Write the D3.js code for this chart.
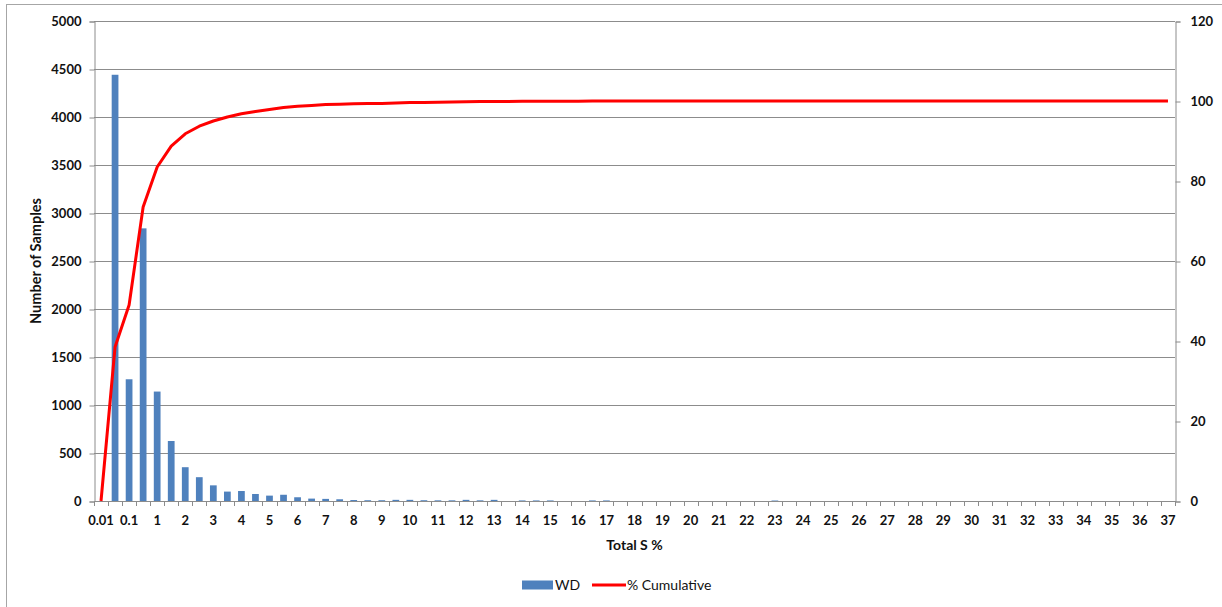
<!DOCTYPE html>
<html>
<head>
<meta charset="utf-8">
<script src="https://cdn.jsdelivr.net/npm/d3@7"></script>
<style>
  body { margin: 0; background: #fff; }
  text { font-family: Lato, "Open Sans", sans-serif; fill: #111; }
</style>
</head>
<body>
<script>
// categories (Total S %), only every second one is labelled
const categories = ['0.01', '0.05', '0.1', '0.5', '1', '1.5', '2', '2.5', '3', '3.5', '4', '4.5', '5', '5.5',
  '6', '6.5', '7', '7.5', '8', '8.5', '9', '9.5', '10', '10.5', '11', '11.5', '12', '12.5', '13', '13.5',
  '14', '14.5', '15', '15.5', '16', '16.5', '17', '17.5', '18', '18.5', '19', '19.5', '20', '20.5',
  '21', '21.5', '22', '22.5', '23', '23.5', '24', '24.5', '25', '25.5', '26', '26.5', '27', '27.5',
  '28', '28.5', '29', '29.5', '30', '30.5', '31', '31.5', '32', '32.5', '33', '33.5', '34', '34.5',
  '35', '35.5', '36', '36.5', '37'];

// WD: number of samples
const wd = [0, 4440, 1268, 2840, 1140, 625, 352, 248, 163, 98, 104, 73, 56, 65, 39, 25,
  22, 18, 10, 8, 8, 12, 12, 8, 7, 7, 12, 7, 12, 0, 6, 6, 6, 0, 0, 6, 6, 0, 0, 0,
  0, 0, 0, 0, 0, 0, 0, 0, 5, 0, 0, 0, 0, 0, 0, 0, 0, 0, 0, 0, 0, 0, 0, 0, 0, 0,
  0, 0, 0, 0, 0, 0, 0, 0, 0, 0, 0];

// % cumulative
const cumulative = [0, 38.5, 49, 73.5, 83.5, 88.7, 91.8, 93.7, 95, 96, 96.8, 97.4, 97.9, 98.4, 98.7, 98.9,
  99.1, 99.2, 99.3, 99.35, 99.4, 99.5, 99.6, 99.65, 99.7, 99.75, 99.8, 99.85, 99.9, 99.9, 99.92, 99.94,
  99.95, 99.95, 99.95, 99.97, 99.98, 99.98, 99.98, 99.98, 99.98, 99.98, 99.98, 99.98, 99.98, 99.98, 99.98,
  99.98, 100, 100, 100, 100, 100, 100, 100, 100, 100, 100, 100, 100, 100, 100, 100, 100, 100, 100,
  100, 100, 100, 100, 100, 100, 100, 100, 100, 100, 100];

const leftTicks = [0, 500, 1000, 1500, 2000, 2500, 3000, 3500, 4000, 4500, 5000];
const rightTicks = [0, 20, 40, 60, 80, 100, 120];

const W = 1222, H = 607;
const margin = { top: 21, right: 47, bottom: 106, left: 94 };
const x0 = margin.left, x1 = W - margin.right, y0 = H - margin.bottom, y1 = margin.top;

const svg = d3.select('body').append('svg')
  .attr('width', W)
  .attr('height', H);

// chart area border
svg.append('rect')
  .attr('x', 6.5).attr('y', 4.5)
  .attr('width', W + 20).attr('height', H + 20)
  .attr('fill', 'none')
  .attr('stroke', '#a6a6a6');

const x = d3.scaleBand()
  .domain(categories)
  .range([x0, x1])
  .padding(0);

const y = d3.scaleLinear().domain([0, 5000]).range([y0, y1]);
const yR = d3.scaleLinear().domain([0, 120]).range([y0, y1]);

// gridlines
svg.append('g')
  .selectAll('line')
  .data(leftTicks.slice(1))
  .enter().append('line')
  .attr('x1', x0).attr('x2', x1)
  .attr('y1', d => Math.round(y(d)) + 0.5)
  .attr('y2', d => Math.round(y(d)) + 0.5)
  .attr('stroke', '#8c8c8c')
  .attr('stroke-width', 1);

// left axis
const gl = svg.append('g')
  .attr('transform', 'translate(' + (x0 + 0.5) + ',0.5)')
  .call(d3.axisLeft(y).tickValues(leftTicks).tickSize(5).tickPadding(8).tickFormat(d3.format('d')));
gl.selectAll('.domain, line').attr('stroke', '#8c8c8c');
gl.selectAll('text').style('font-size', '13px').style('font-weight', 'bold');

// right axis
const gr = svg.append('g')
  .attr('transform', 'translate(' + (x1 + 0.5) + ',0.5)')
  .call(d3.axisRight(yR).tickValues(rightTicks).tickSize(5).tickPadding(10));
gr.selectAll('.domain, line').attr('stroke', '#8c8c8c');
gr.selectAll('text').style('font-size', '13px').style('font-weight', 'bold');

// bars
const bw = x.bandwidth() * 0.48;
svg.append('g')
  .selectAll('rect')
  .data(categories.map((c, i) => ({ c: c, v: wd[i] })))
  .enter().append('rect')
  .attr('x', d => x(d.c) + (x.bandwidth() - bw) / 2)
  .attr('y', d => y(d.v))
  .attr('width', bw)
  .attr('height', d => y0 - y(d.v))
  .attr('fill', '#4f81bd');

// bottom axis: labels every second category
const gb = svg.append('g')
  .attr('transform', 'translate(0,' + (y0 + 0.5) + ')')
  .call(d3.axisBottom(x)
    .tickValues(categories.filter((d, i) => i % 2 === 0))
    .tickSize(0)
    .tickPadding(14));
gb.select('.domain').remove();
gb.selectAll('text').style('font-size', '13px').style('font-weight', 'bold');

// baseline and boundary ticks
svg.append('line')
  .attr('x1', x0).attr('x2', x1 + 0.5)
  .attr('y1', y0 + 0.5).attr('y2', y0 + 0.5)
  .attr('stroke', '#8c8c8c');
const bounds = categories.map(c => x(c)).concat([x1]);
svg.append('g')
  .selectAll('line')
  .data(bounds)
  .enter().append('line')
  .attr('x1', d => Math.round(d) + 0.5).attr('x2', d => Math.round(d) + 0.5)
  .attr('y1', y0).attr('y2', y0 + 5)
  .attr('stroke', '#8c8c8c');

// cumulative line
const line = d3.line()
  .x((d, i) => x(categories[i]) + x.bandwidth() / 2)
  .y(d => yR(d));
svg.append('path')
  .datum(cumulative)
  .attr('d', line)
  .attr('fill', 'none')
  .attr('stroke', '#ff0000')
  .attr('stroke-width', 3)
  .attr('stroke-linejoin', 'round');

// axis titles
svg.append('text')
  .attr('transform', 'translate(41,' + ((y0 + y1) / 2) + ') rotate(-90)')
  .attr('text-anchor', 'middle')
  .style('font-size', '14.5px')
  .style('font-weight', 'bold')
  .text('Number of Samples');

svg.append('text')
  .attr('x', (x0 + x1) / 2)
  .attr('y', 550)
  .attr('text-anchor', 'middle')
  .style('font-size', '14px')
  .style('font-weight', 'bold')
  .text('Total S %');

// legend
const lg = svg.append('g').attr('transform', 'translate(522,585)');
lg.append('rect')
  .attr('x', 0).attr('y', -4.5)
  .attr('width', 31).attr('height', 9)
  .attr('fill', '#4f81bd');
lg.append('text')
  .attr('x', 33).attr('y', 5)
  .style('font-size', '14px')
  .text('WD');
lg.append('line')
  .attr('x1', 70).attr('x2', 104)
  .attr('y1', 0).attr('y2', 0)
  .attr('stroke', '#ff0000')
  .attr('stroke-width', 3);
lg.append('text')
  .attr('x', 105).attr('y', 5)
  .style('font-size', '14px')
  .text('% Cumulative');
</script>
</body>
</html>
